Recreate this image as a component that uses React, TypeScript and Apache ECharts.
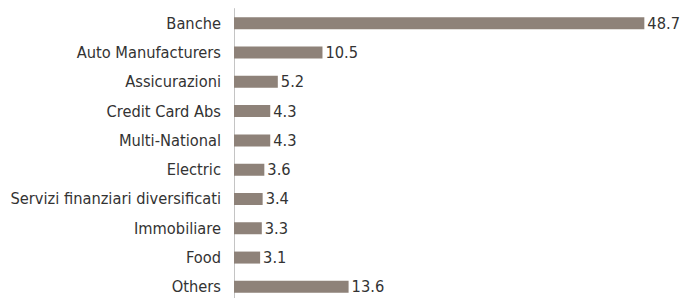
import React, { useEffect, useRef } from "react";
import * as echarts from "echarts";

const categories = [
  "Banche",
  "Auto Manufacturers",
  "Assicurazioni",
  "Credit Card Abs",
  "Multi-National",
  "Electric",
  "Servizi finanziari diversificati",
  "Immobiliare",
  "Food",
  "Others",
];
const values = [48.7, 10.5, 5.2, 4.3, 4.3, 3.6, 3.4, 3.3, 3.1, 13.6];

const FONT = "'DejaVu Sans Condensed', 'Roboto', sans-serif";

export default function App() {
  const ref = useRef<HTMLDivElement>(null);
  useEffect(() => {
    if (!ref.current) return;
    const chart = echarts.init(ref.current, undefined, { renderer: "svg" });
    chart.setOption({
      animation: false,
      grid: { left: 234, right: 26.7, top: 8.6, bottom: 8.5, containLabel: false },
      xAxis: {
        type: "value",
        min: 0,
        max: 50,
        show: false,
      },
      yAxis: {
        type: "category",
        data: categories,
        inverse: true,
        axisLine: { show: true, lineStyle: { color: "#c4c4c4", width: 1 } },
        axisTick: { show: false },
        axisLabel: {
          margin: 13,
          color: "#333333",
          fontSize: 16.3,
          fontFamily: FONT,
        },
      },
      series: [
        {
          type: "bar",
          data: values,
          barWidth: 12,
          itemStyle: { color: "#8e8279" },
          label: {
            show: true,
            position: "right",
            distance: 3,
            color: "#333333",
            fontSize: 16.3,
            fontFamily: FONT,
            formatter: (p: any) => p.value.toFixed(1),
          },
        },
      ],
    });
    return () => chart.dispose();
  }, []);
  return (
    <div
      style={{ position: "absolute", left: 0, top: 0, width: 682, height: 298, overflow: "hidden" }}
    >
      <div ref={ref} style={{ width: 682, height: 310 }} />
    </div>
  );
}
